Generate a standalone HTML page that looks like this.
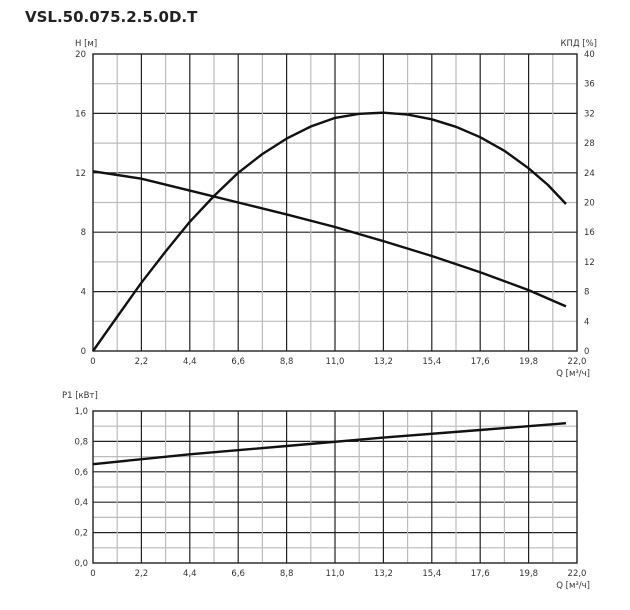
<!DOCTYPE html>
<html><head><meta charset="utf-8"><style>
body{margin:0;background:#fff;width:630px;height:610px;overflow:hidden}
svg{display:block;font-family:"DejaVu Sans","Liberation Sans",sans-serif}
</style></head><body>
<svg id="s" width="630" height="610" xmlns="http://www.w3.org/2000/svg">
<text x="25" y="22" font-size="15" font-weight="bold" fill="#222" font-family="DejaVu Sans, sans-serif">VSL.50.075.2.5.0D.T</text>
<g id="g"></g>
<polyline fill="none" stroke="#111" stroke-width="2.4" stroke-linejoin="round" points="93,171.3 141.4,178.7 189.8,190.6 238.2,202.5 286.6,214.4 335,227 383.4,241.1 431.8,256 480.2,272.3 528.6,290.1 566,306.4"/>
<polyline fill="none" stroke="#111" stroke-width="2.4" stroke-linejoin="round" points="93,351 117,317 141.4,282.7 165.6,251.5 189.8,221.8 214,196 238.2,172.8 262.4,154 286.6,138.6 310.8,126.5 335,117.9 359.2,113.8 383.4,112.7 407.6,114.6 431.8,119.3 456,126.8 480.2,137.2 504.4,150.8 528.6,168.3 548,185 566,204"/>
<polyline fill="none" stroke="#111" stroke-width="2.4" points="93,464.2 189.8,454.3 286.6,446 383.4,437.6 480.2,430 566,423.2"/>
</svg>
<script>
var g=document.getElementById('g'),h='';
function L(x1,y1,x2,y2,c,w){h+='<line x1="'+x1+'" y1="'+y1+'" x2="'+x2+'" y2="'+y2+'" stroke="'+c+'" stroke-width="'+w+'"/>';}
function T(x,y,t,a){h+='<text x="'+x+'" y="'+y+'" font-size="8.5" fill="#333" text-anchor="'+(a||'start')+'">'+t+'</text>';}
var x0=93,x1=577,w=(x1-x0)/20;
// chart 1
var t1=54,b1=351,hs=(b1-t1)/10;
for(var i=1;i<10;i++){var y=t1+i*hs;L(x0,y,x1,y,i%2==0?'#222':'#bbb',i%2==0?1.2:1.2);}
for(var i=1;i<20;i++){var x=x0+i*w;L(x,t1,x,b1,i%2==0?'#222':'#bbb',1.2);}
h+='<rect x="'+x0+'" y="'+t1+'" width="'+(x1-x0)+'" height="'+(b1-t1)+'" fill="none" stroke="#222" stroke-width="1.4"/>';
for(var i=0;i<=5;i++){var y=b1-i*2*hs;T(86,y+3,i*4,'end');}
for(var i=0;i<=10;i++){var y=b1-i*hs;T(584,y+3,i*4);}
var xl=['0','2,2','4,4','6,6','8,8','11,0','13,2','15,4','17,6','19,8','22,0'];
for(var i=0;i<=10;i++){T(x0+i*2*w,b1+13,xl[i],'middle');}
T(75,46,'H [м]');T(597,46,'КПД [%]','end');T(590,376,'Q [м³/ч]','end');
// chart 2
var t2=411,b2=563,hs2=(b2-t2)/10;
for(var i=1;i<10;i++){var y=t2+i*hs2;L(x0,y,x1,y,i%2==0?'#222':'#bbb',1.2);}
for(var i=1;i<20;i++){var x=x0+i*w;L(x,t2,x,b2,i%2==0?'#222':'#bbb',1.2);}
h+='<rect x="'+x0+'" y="'+t2+'" width="'+(x1-x0)+'" height="'+(b2-t2)+'" fill="none" stroke="#222" stroke-width="1.4"/>';
var pl=['0,0','0,2','0,4','0,6','0,8','1,0'];
for(var i=0;i<=5;i++){T(88,b2-i*2*hs2+3,pl[i],'end');}
for(var i=0;i<=10;i++){T(x0+i*2*w,b2+13,xl[i],'middle');}
T(62,398,'P1 [кВт]');T(590,588,'Q [м³/ч]','end');
g.innerHTML=h;
</script>
</body></html>
